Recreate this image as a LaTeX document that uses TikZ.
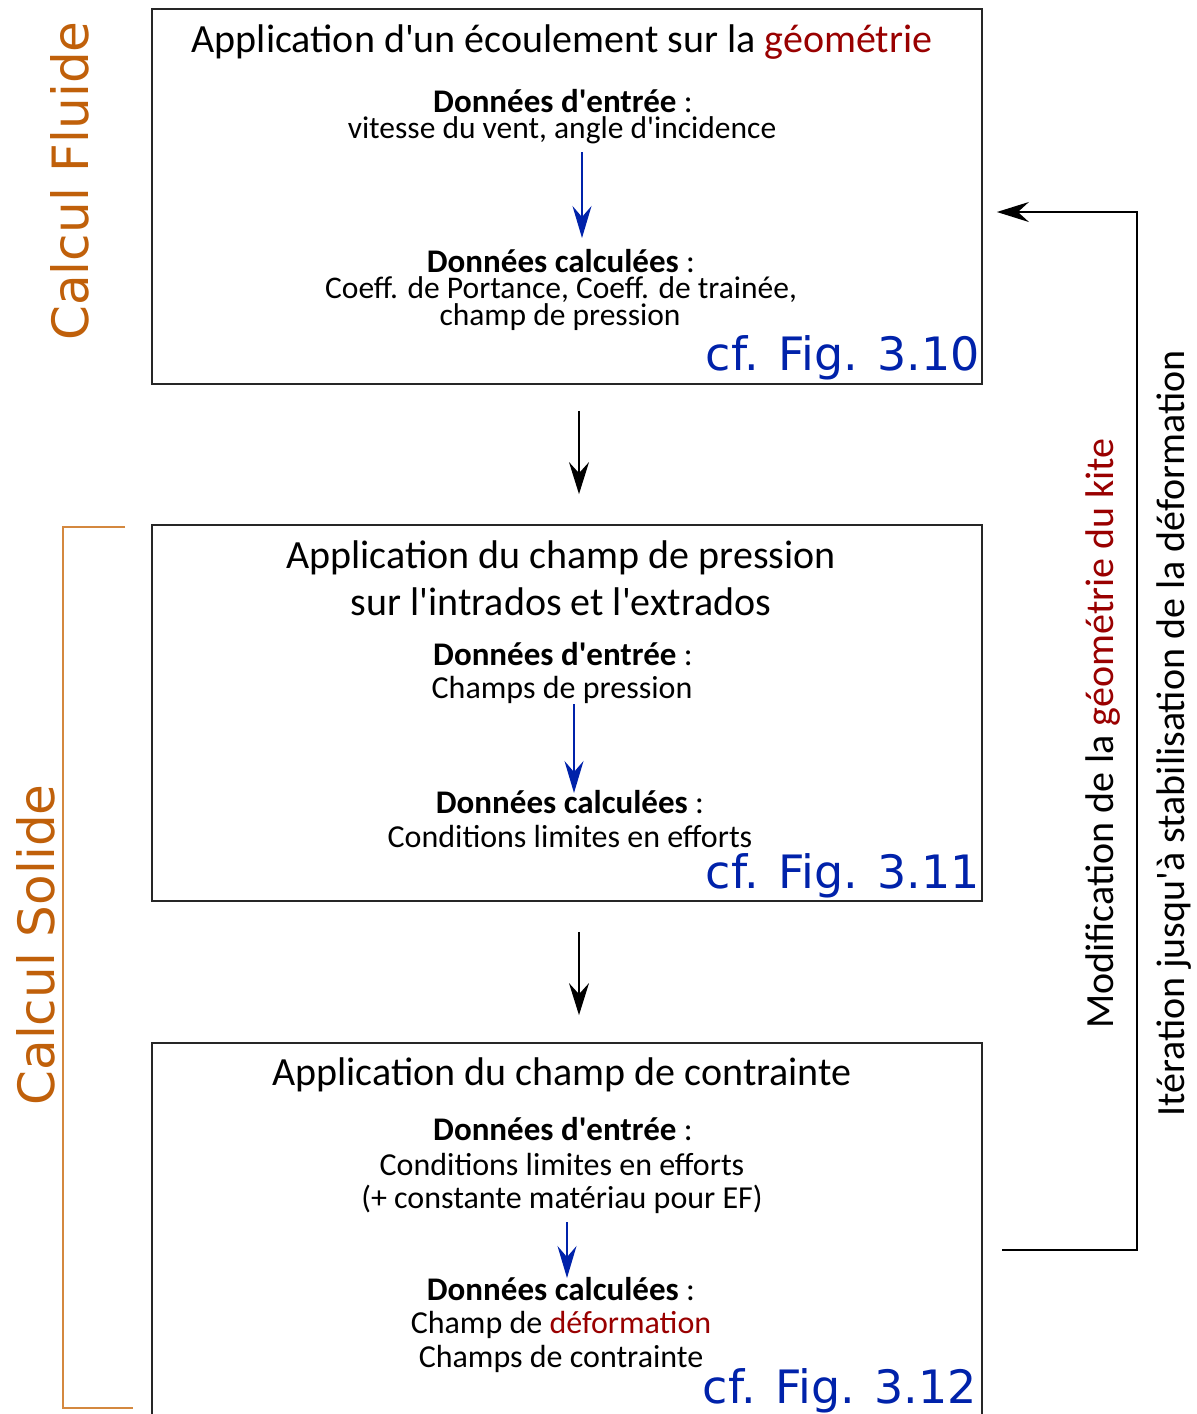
\documentclass[tikz,border=0pt]{standalone}
\usepackage{fontspec}
\setmainfont{Carlito}
\newfontfamily\dejavu{DejaVu Sans}
\usetikzlibrary{arrows.meta,calc}
\definecolor{orangeT}{HTML}{C0600A}
\definecolor{orangeL}{HTML}{D4883F}
\definecolor{redT}{HTML}{990000}
\definecolor{blueT}{HTML}{0022AA}
\newcommand{\apos}{\textquotesingle}
\begin{document}
\begin{tikzpicture}[x=1pt,y=-1pt,
  box/.style={draw=black!85, line width=1.8pt, minimum width=830pt, inner sep=0pt},
  title/.style={anchor=base, inner sep=0pt, font=\fontsize{40}{46}\selectfont},
  lblA/.style={anchor=base, inner sep=0pt, font=\fontsize{31.5}{34}\selectfont},
  lblB/.style={anchor=base, inner sep=0pt, font=\fontsize{32}{36}\selectfont},
  lblH/.style={anchor=base, inner sep=0pt, font=\fontsize{33}{36}\selectfont},
  fig/.style={anchor=base east, inner sep=0pt, text=blueT, font=\fontsize{46}{50}\dejavu},
  side/.style={anchor=base, inner sep=0pt, rotate=90, text=orangeT, font=\fontsize{50}{56}\dejavu},
  vert/.style={anchor=base, inner sep=0pt, rotate=90, font=\fontsize{40}{44}\selectfont},
  karrow/.style={line width=1.6pt, -{Stealth[length=32pt,width=20pt,inset=11pt]}},
  barrow/.style={line width=1.6pt, draw=blueT, -{Stealth[length=32pt,width=19pt,inset=11pt,fill=blueT]}}
]
\clip (0,0) rectangle (1197,1414);
\fill[white] (0,0) rectangle (1197,1414);

% boxes
\node[box, minimum height=375pt] (box1) at (567,196.5) {};
\node[box, minimum height=376pt] (box2) at (567,713) {};
\node[box, minimum height=407pt] (box3) at (567,1246.5) {};

% side labels
\node[side] (fluide) at (88,181) {Calcul Fluide};
\node[side] (solide) at (54,945) {Calcul Solide};
\draw[orangeL, line width=2.5pt] (125,527) -- (63,527) -- (63,1408) -- (133,1408);

% box 1 texts
\node[title] (t1) at (562,52) {Application d\apos{}un écoulement sur la \textcolor{redT}{géométrie}};
\node[lblH] (in1b) at (563,112) {\textbf{Données d\apos{}entrée} :};
\node[lblA] (in1) at (562,138) {vitesse du vent, angle d\apos{}incidence};
\node[lblH] (out1b) at (561,272) {\textbf{Données calculées} :};
\node[lblA] (out1a) at (561,298) {Coeff. de Portance, Coeff. de trainée,};
\node[lblA] (out1c) at (560,325) {champ de pression};
\node[fig] (fig1) at (980,370) {cf. Fig. 3.10};
\draw[barrow] ($(in1.base)+(20,14)$) -- ($(out1b.base)+(21,-34)$);

% box 2 texts
\node[title] (t2a) at (561,568) {Application du champ de pression};
\node[title] (t2b) at (561,615) {sur l\apos{}intrados et l\apos{}extrados};
\node[lblH] (in2b) at (563,665) {\textbf{Données d\apos{}entrée} :};
\node[lblB] (in2) at (562,698) {Champs de pression};
\node[lblH] (out2b) at (570,813) {\textbf{Données calculées} :};
\node[lblB] (out2a) at (570,847) {Conditions limites en efforts};
\node[fig] (fig2) at (980,888) {cf. Fig. 3.11};
\draw[barrow] ($(in2.base)+(12,6)$) -- ($(out2b.base)+(4,-20)$);

% box 3 texts
\node[title] (t3) at (562,1085) {Application du champ de contrainte};
\node[lblH] (in3b) at (563,1140) {\textbf{Données d\apos{}entrée} :};
\node[lblB] (in3a) at (562,1175) {Conditions limites en efforts};
\node[lblB] (in3c) at (562,1208) {(+ constante matériau pour EF)};
\node[lblH] (out3b) at (561,1300) {\textbf{Données calculées} :};
\node[lblB] (out3a) at (561,1333) {Champ de \textcolor{redT}{déformation}};
\node[lblB] (out3c) at (561,1367) {Champs de contrainte};
\node[fig] (fig3) at (977,1403) {cf. Fig. 3.12};
\draw[barrow] ($(in3c.base)+(5,14)$) -- ($(out3b.base)+(6,-22)$);

% arrows between boxes
\draw[karrow, shorten <=26pt, shorten >=30pt] ([xshift=12pt]box1.south) -- ([xshift=12pt]box2.north);
\draw[karrow, shorten <=30pt, shorten >=27pt] ([xshift=12pt]box2.south) -- ([xshift=12pt]box3.north);

% feedback loop
\coordinate (fbS) at (1002,1250);
\coordinate (fbT) at (1137,212);
\draw[karrow, shorten >=14pt] (fbS) -| (fbT) -- (box1.east |- fbT);
\node[vert] (mod) at (1113,733.5) {Modification de la \textcolor{redT}{géométrie du kite}};
\node[vert] (iter) at (1184,733.5) {Itération jusqu\apos{}à stabilisation de la déformation};
\end{tikzpicture}
\end{document}
